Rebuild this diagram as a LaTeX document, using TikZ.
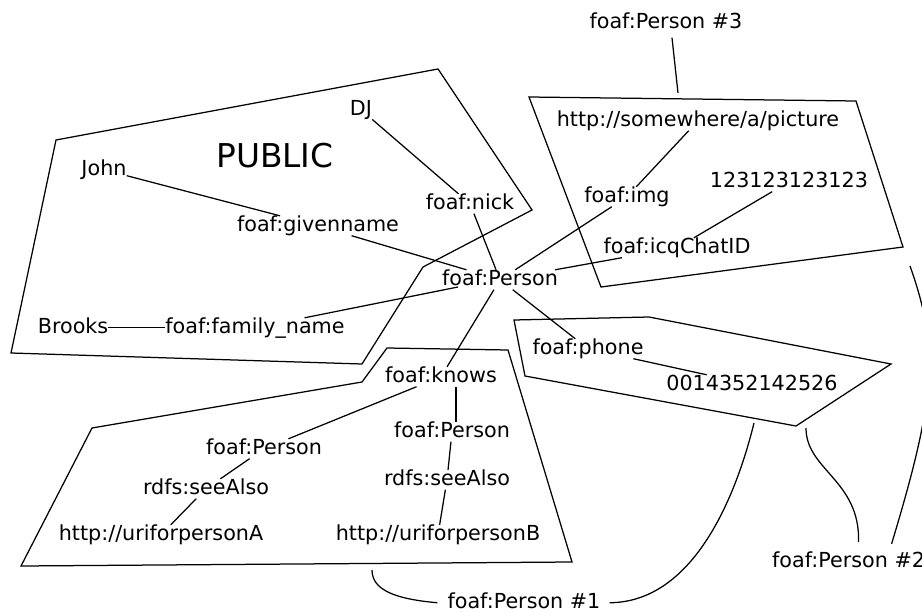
\documentclass[tikz,border=0pt]{standalone}
\usepackage{fontspec}
\setmainfont{DejaVu Sans}
\begin{document}
\begin{tikzpicture}[x=1pt,y=-1pt,
  lbl/.style={anchor=base,inner sep=0pt,text height=15.5pt,text depth=4pt,font=\fontsize{20.7}{24}\selectfont},
  link/.style={line width=1.25pt},
  region/.style={line width=1.25pt,line join=miter}]
\useasboundingbox (0,0) rectangle (922,613);

% regions
\draw[region] (56,140) -- (438,69) -- (532,210) -- (423,267) -- (362,364) -- (11,353) -- cycle;
\draw[region] (529,97) -- (856,101) -- (903,247) -- (601,287) -- cycle;
\draw[region] (514,320) -- (649,317) -- (891,364) -- (796,426) -- (525,376) -- cycle;
\draw[region] (387,348) -- (508,350) -- (572,562) -- (21,566) -- (92,428) -- (362,382) -- cycle;

% labels
\node[lbl,text height=24pt,font=\fontsize{32.8}{36}\selectfont] (public) at (275,167) {PUBLIC};
\node[lbl] (p3) at (666,28.5) {foaf:Person \#3};
\node[lbl] (dj) at (361,115.5) {DJ};
\node[lbl] (john) at (104,175.5) {John};
\node[lbl] (nick) at (470,209.5) {foaf:nick};
\node[lbl] (given) at (318,231.5) {foaf:givenname};
\node[lbl] (pic) at (698,126.5) {http://somewhere/a/picture};
\node[lbl] (img) at (627,202.5) {foaf:img};
\node[lbl] (num) at (789,187.5) {123123123123};
\node[lbl] (icq) at (677,253.5) {foaf:icqChatID};
\node[lbl] (person) at (500,285.5) {foaf:Person};
\node[lbl] (brooks) at (73,333.5) {Brooks};
\node[lbl] (family) at (255,333.5) {foaf:family\_name};
\node[lbl] (phone) at (588,354.5) {foaf:phone};
\node[lbl] (tel) at (752,390.5) {0014352142526};
\node[lbl] (knows) at (441,382.5) {foaf:knows};
\node[lbl] (pl) at (264,454.5) {foaf:Person};
\node[lbl] (pr) at (452,437.5) {foaf:Person};
\node[lbl] (sl) at (206,494.5) {rdfs:seeAlso};
\node[lbl] (sr) at (447,485.5) {rdfs:seeAlso};
\node[lbl] (ha) at (161,540.5) {http://uriforpersonA};
\node[lbl] (hb) at (438,540.5) {http://uriforpersonB};
\node[lbl] (p1) at (524,608.5) {foaf:Person \#1};
\node[lbl,anchor=base west] (p2) at (772,567.5) {foaf:Person \#2};

% connectors
\draw[link] (dj) -- (nick);
\draw[link] (nick) -- (person);
\draw[link] (john) -- (given);
\draw[link] (given) -- (person);
\draw[link] (brooks) -- (family);
\draw[link] (family) -- ([xshift=-42pt,yshift=-1.5pt]person.base);
\draw[link] (person) -- (img);
\draw[link] (person) -- (icq);
\draw[link] (img) -- (pic);
\draw[link] (icq) -- (num);
\draw[link] (person) -- (phone);
\draw[link] (phone) -- (tel);
\draw[link] (person) -- (knows);
\draw[link] (knows) -- (pl);
\draw[link] ([xshift=15pt]knows.south) -- ([xshift=4pt]pr.north);
\draw[link] (pl) -- (sl);
\draw[link] (sl) -- (ha);
\draw[link] (pr) -- (sr);
\draw[link] (sr) -- (hb);

% pointers
\coordinate (c3) at (678,93);
\draw[link] ([xshift=6pt,yshift=-5pt]p3.south) -- (c3);
\coordinate (c1a) at (372,570);
\coordinate (c1b) at (754,423);
\draw[link] ([xshift=-10pt]p1.west) .. controls (395,599) and (372,590) .. (c1a);
\draw[link] ([xshift=9pt]p1.east) .. controls (700,602) and (740,480) .. (c1b);
\coordinate (c2a) at (806,428);
\coordinate (c2b) at (910,266);
\draw[link] ([xshift=10pt,yshift=10pt]p2.north) .. controls (860,480) and (806,470) .. (c2a);
\draw[link] ([xshift=43pt,yshift=8pt]p2.north) .. controls (935,400) and (940,350) .. (c2b);
\end{tikzpicture}
\end{document}
